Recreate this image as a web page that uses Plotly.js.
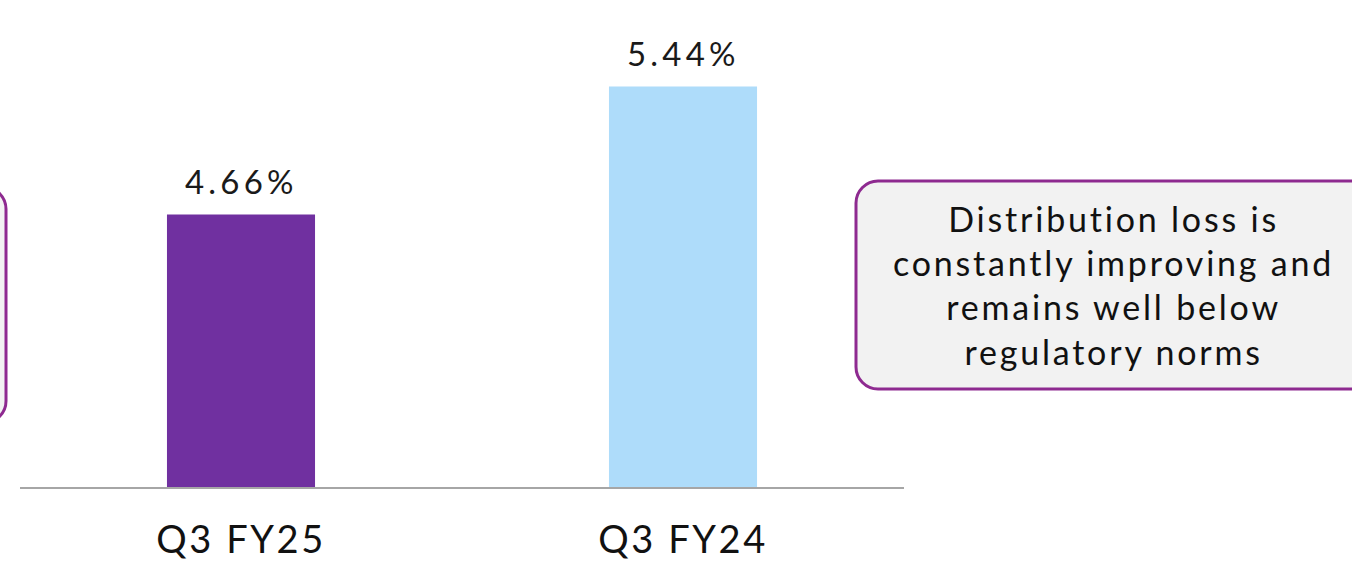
<!DOCTYPE html>
<html>
<head>
<meta charset="utf-8">
<script src="https://cdn.plot.ly/plotly-3.0.1.min.js"></script>
<style>
html,body{margin:0;padding:0;background:#fff;}
#chart{width:1352px;height:564px;}
.xtick text{letter-spacing:2.6px;}
text.annotation-text[style*="font-size: 34px"]{letter-spacing:2.8px;}
text.annotation-text[style*="font-size: 33px"]{letter-spacing:4.2px;}
</style>
</head>
<body>
<div id="chart"></div>
<script>
const categories = ["Q3 FY25", "Q3 FY24"];
const lossValues = [4.66, 5.44];
const valueLabels = ["4.66%", "5.44%"];
const barColors = ["#7030A0", "#AEDCFA"];
const noteText = "Distribution loss is<br>constantly improving and<br>remains well below<br>regulatory norms";

const W = 1352, H = 564;
const L = 20, R = 448, T = 0, B = 77;
const pw = W - L - R, ph = H - T - B;
function px(x) { return (x - L) / pw; }
function py(y) { return (H - B - y) / ph; }
function roundRect(x0, y0, x1, y1, r) {
  const k = 0.45 * r;
  return "M" + px(x0 + r) + "," + py(y0) +
    " L" + px(x1 - r) + "," + py(y0) +
    " C" + px(x1 - k) + "," + py(y0) + " " + px(x1) + "," + py(y0 + k) + " " + px(x1) + "," + py(y0 + r) +
    " L" + px(x1) + "," + py(y1 - r) +
    " C" + px(x1) + "," + py(y1 - k) + " " + px(x1 - k) + "," + py(y1) + " " + px(x1 - r) + "," + py(y1) +
    " L" + px(x0 + r) + "," + py(y1) +
    " C" + px(x0 + k) + "," + py(y1) + " " + px(x0) + "," + py(y1 - k) + " " + px(x0) + "," + py(y1 - r) +
    " L" + px(x0) + "," + py(y0 + r) +
    " C" + px(x0) + "," + py(y0 + k) + " " + px(x0 + k) + "," + py(y0) + " " + px(x0 + r) + "," + py(y0) + " Z";
}

const font = "Lato, 'Noto Sans', sans-serif";

const trace = {
  type: "bar",
  x: categories,
  y: lossValues,
  marker: { color: barColors },
  hoverinfo: "skip"
};

const annotations = categories.map((c, i) => ({
  x: c, y: lossValues[i], xref: "x", yref: "y",
  text: valueLabels[i], showarrow: false,
  xanchor: "center", yanchor: "bottom", yshift: 12,
  font: { family: font, size: 33, color: "#1a1a1a" }
}));
annotations.push({
  xref: "paper", yref: "paper", x: px(1113), y: py(285),
  xanchor: "center", yanchor: "middle", showarrow: false,
  text: noteText, align: "center",
  font: { family: font, size: 34, color: "#111111" }
});

const layout = {
  width: W, height: H,
  margin: { l: L, r: R, t: T, b: B, pad: 0 },
  paper_bgcolor: "#ffffff", plot_bgcolor: "#ffffff",
  showlegend: false,
  bargap: 0.665,
  xaxis: {
    showgrid: false, zeroline: false,
    showline: true, linecolor: "#A6A6A6", linewidth: 2,
    ticks: "", tickfont: { family: font, size: 38, color: "#111111" },
    ticklabelstandoff: 18
  },
  yaxis: {
    range: [3, 3 + ph / 164.1], showgrid: false, zeroline: false,
    showline: false, showticklabels: false, ticks: ""
  },
  annotations: annotations,
  shapes: [
    { type: "path", xref: "paper", yref: "paper", path: roundRect(856, 181, 1380, 389, 22),
      line: { color: "#8E2A90", width: 3 }, fillcolor: "#F2F2F2", layer: "below" },
    { type: "path", xref: "paper", yref: "paper", path: roundRect(-300, 187, 6, 423, 22),
      line: { color: "#8E2A90", width: 3 }, fillcolor: "#F2F2F2", layer: "below" }
  ]
};

Plotly.newPlot("chart", [trace], layout, { staticPlot: true, displayModeBar: false });
</script>
</body>
</html>
